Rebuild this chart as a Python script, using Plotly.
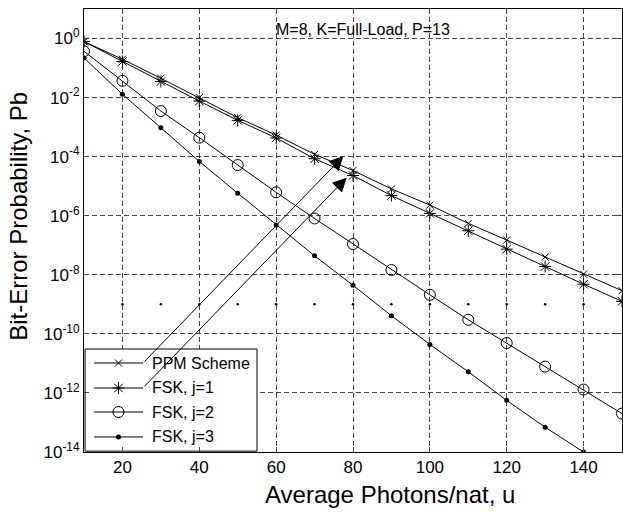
import plotly.graph_objects as go

# Average photons per nat
u = [10, 20, 30, 40, 50, 60, 70, 80, 90, 100, 110, 120, 130, 140, 150]

# Bit-error probabilities
pb_ppm = [0.79, 0.20, 4.5e-2, 1.0e-2, 2.1e-3, 5.4e-4, 1.2e-4, 3.4e-5, 8.1e-6,
          2.3e-6, 5.5e-7, 1.5e-7, 4.0e-8, 1.05e-8, 2.9e-9]
pb_fsk1 = [0.79, 0.166, 3.5e-2, 7.6e-3, 1.7e-3, 4.3e-4, 8.5e-5, 2.3e-5, 4.8e-6,
           1.2e-6, 3.1e-7, 7.4e-8, 1.9e-8, 4.8e-9, 1.26e-9]
pb_fsk2 = [0.37, 3.7e-2, 3.5e-3, 4.4e-4, 5.2e-5, 6.2e-6, 8.1e-7, 1.1e-7, 1.45e-8,
           2.1e-9, 3.0e-10, 4.9e-11, 7.8e-12, 1.3e-12, 2.0e-13]
u_fsk3 = [10, 20, 30, 40, 50, 60, 70, 80, 90, 100, 110, 120, 130, 140]
pb_fsk3 = [0.22, 1.3e-2, 9.5e-4, 6.9e-5, 5.8e-6, 4.9e-7, 4.4e-8, 4.4e-9, 4.1e-10,
           4.4e-11, 5.2e-12, 5.6e-13, 6.9e-14, 1.0e-14]

# dotted reference row
u_dots = [20, 30, 40, 50, 60, 70, 80, 90, 100, 110, 120, 130, 140]
pb_dots = [1e-9] * len(u_dots)

series_names = ["PPM Scheme", "FSK, j=1", "FSK, j=2", "FSK, j=3"]

x_ticks = [20, 40, 60, 80, 100, 120, 140]
y_exps = [0, -2, -4, -6, -8, -10, -12, -14]

FONT = "Liberation Sans, Arial, Helvetica, sans-serif"

styles = [
    dict(symbol="x-thin", size=7, line=dict(width=1, color="black"), color="black"),
    dict(symbol="asterisk", size=10, line=dict(width=1, color="black"), color="black"),
    dict(symbol="circle-open", size=11, line=dict(width=1, color="black"), color="black"),
    dict(symbol="circle", size=5, line=dict(width=0), color="black"),
]

fig = go.Figure()

for xs, ys, nm, st in zip([u, u, u, u_fsk3], [pb_ppm, pb_fsk1, pb_fsk2, pb_fsk3],
                          series_names, styles):
    fig.add_trace(go.Scatter(x=xs, y=ys, name=nm, mode="lines+markers",
                             line=dict(color="black", width=1), marker=st,
                             showlegend=False))

fig.add_trace(go.Scatter(x=u_dots, y=pb_dots, mode="markers",
                         marker=dict(color="black", size=2.5), showlegend=False))

# hand-drawn legend on an overlay axis spanning the plot area (0..1 both ways)
bx0, bx1, by0, by1 = 0.002, 0.3216, 0.002, 0.2325
rows = [0.2009, 0.1445, 0.0903, 0.0339]
lx0, lx1, lmid, tx = 0.0186, 0.1097, 0.0641, 0.1227

fig.add_trace(go.Scatter(x=[bx0, bx1, bx1, bx0, bx0], y=[by0, by0, by1, by1, by0],
                         xaxis="x2", yaxis="y2", mode="lines", fill="toself",
                         fillcolor="white", line=dict(color="black", width=1),
                         showlegend=False, hoverinfo="skip"))

annotations = []
for ry, nm, st in zip(rows, series_names, styles):
    fig.add_trace(go.Scatter(x=[lx0, lx1], y=[ry, ry], xaxis="x2", yaxis="y2",
                             mode="lines", line=dict(color="black", width=1),
                             showlegend=False, hoverinfo="skip"))
    fig.add_trace(go.Scatter(x=[lmid], y=[ry], xaxis="x2", yaxis="y2", mode="markers",
                             marker=st, showlegend=False, hoverinfo="skip"))
    annotations.append(dict(xref="x2", yref="y2", x=tx, y=ry, text=nm,
                            showarrow=False, xanchor="left", yanchor="middle",
                            font=dict(family=FONT, size=16, color="black")))

# arrows from legend entries to the curves (x in data units, y in log10 units)
arrows = [((77.5, -3.98), (25.35, -10.99)),
          ((78.36, -4.71), (25.35, -11.83))]
for (hx, hy), (tx0, ty0) in arrows:
    annotations.append(dict(x=hx, y=hy, ax=tx0, ay=ty0, xref="x", yref="y",
                            axref="x", ayref="y", text="", showarrow=True,
                            arrowhead=2, arrowsize=2.8, arrowwidth=1,
                            arrowcolor="black", standoff=0))

annotations.append(dict(x=59.5, y=0.32, xref="x", yref="y", text="M=8, K=Full-Load, P=13",
                        showarrow=False, xanchor="left", yanchor="middle",
                        font=dict(family=FONT, size=16, color="black")))

# axis titles
annotations.append(dict(xref="paper", yref="paper", x=0.569, y=-0.097,
                        text="Average Photons/nat, u", showarrow=False,
                        xanchor="center", yanchor="middle",
                        font=dict(family=FONT, size=24, color="black")))
annotations.append(dict(xref="paper", yref="paper", x=-0.121, y=0.533,
                        text="Bit-Error Probability, Pb", showarrow=False,
                        textangle=-90, xanchor="center", yanchor="middle",
                        font=dict(family=FONT, size=24, color="black")))

grid = dict(showgrid=True, gridcolor="#444444", griddash="5px,3px", gridwidth=1)

fig.update_layout(
    width=623, height=512,
    margin=dict(l=84, r=1, t=9, b=60),
    paper_bgcolor="white", plot_bgcolor="white",
    font=dict(family=FONT, size=17, color="black"),
    annotations=annotations,
    xaxis=dict(range=[10, 150], tickvals=x_ticks, ticks="inside", ticklen=5,
               showline=True, linecolor="black", linewidth=1, mirror="ticks",
               zeroline=False, tickfont=dict(size=17), **grid),
    yaxis=dict(type="log", range=[-14, 1], tickvals=[10.0 ** e for e in y_exps],
               ticktext=["10<sup>%d</sup>" % e for e in y_exps],
               ticks="inside", ticklen=5, showline=True, linecolor="black",
               linewidth=1, mirror="ticks", zeroline=False, tickfont=dict(size=17),
               **grid),
    xaxis2=dict(overlaying="x", range=[0, 1], visible=False),
    yaxis2=dict(overlaying="y", range=[0, 1], visible=False),
)

fig.write_html("out.html")
